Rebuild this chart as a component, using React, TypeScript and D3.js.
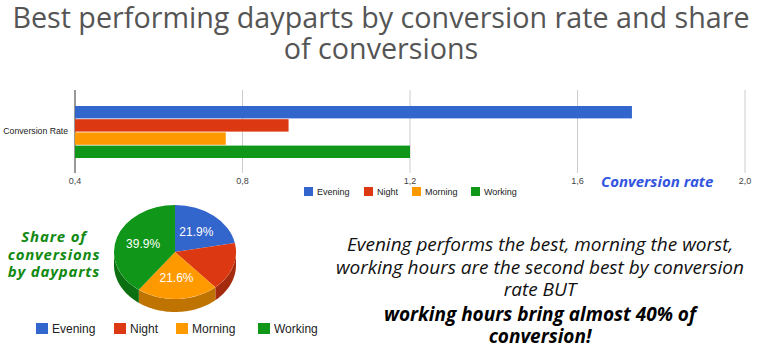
import * as d3 from "d3";

const dayparts = ["Evening", "Night", "Morning", "Working"];
const conversionRate = [1.73, 0.91, 0.76, 1.2];
const conversionShare = [21.9, 16.6, 21.6, 39.9];
const rateTicks = [0.4, 0.8, 1.2, 1.6, 2.0];
const colors = ["#3366cc", "#dc3912", "#ff9900", "#109618"];
const sideColors = ["#264d99", "#a52b0e", "#bf7300", "#0c7012"];
const titleLines = ["Best performing dayparts by conversion rate and share", "of conversions"];
const noteLines = [
  "Evening performs the best, morning the worst,",
  "working hours are the second best by conversion",
  "rate BUT",
];
const noteBold = ["working hours bring almost 40% of", "conversion!"];
const pieTitle = ["Share of", "conversions", "by dayparts"];

const W = 762;
const H = 364;
const sans = "Arial, 'Liberation Sans', sans-serif";
const open = "'Open Sans', sans-serif";

function Pie3D() {
  const cx = 175;
  const cy = 252;
  const rx = 61;
  const ry = 47;
  const depth = 13;
  const pie = d3.pie<number>().sort(null).value((d) => d);
  const arcs = pie(conversionShare);
  const pt = (a: number, dy = 0) => [cx + rx * Math.sin(a), cy - ry * Math.cos(a) + dy];
  const arcGen = d3.arc<d3.PieArcDatum<number>>().innerRadius(0).outerRadius(rx);

  // side band, only for the front half of the ellipse
  const sides = arcs.map((a, i) => {
    const s = Math.max(a.startAngle, Math.PI / 2);
    const e = Math.min(a.endAngle, (3 * Math.PI) / 2);
    if (e <= s) return null;
    const steps = d3.range(0, 41).map((k) => s + ((e - s) * k) / 40);
    const top = steps.map((t) => pt(t));
    const bottom = steps.slice().reverse().map((t) => pt(t, depth));
    const line = d3.line();
    return <path key={`side-${i}`} d={line([...top, ...bottom] as [number, number][]) + "Z"} fill={sideColors[i]} />;
  });

  return (
    <g>
      {sides}
      <g transform={`translate(${cx},${cy}) scale(1,${ry / rx})`}>
        {arcs.map((a, i) => (
          <path key={i} d={arcGen(a) ?? ""} fill={colors[i]} />
        ))}
      </g>
      {arcs.map((a, i) => {
        if (a.data < 20) return null;
        const mid = (a.startAngle + a.endAngle) / 2;
        const [x, y] = [cx + rx * 0.55 * Math.sin(mid), cy - ry * 0.55 * Math.cos(mid)];
        return (
          <text key={`l-${i}`} x={x} y={y + 4} textAnchor="middle" fill="#fff" fontSize={12} fontFamily={sans}>
            {`${a.data.toFixed(1)}%`}
          </text>
        );
      })}
    </g>
  );
}

export default function App() {
  const x = d3.scaleLinear().domain([0.4, 2.0]).range([75, 745]);
  const y = d3.scaleBand<string>().domain(dayparts).range([106, 158]).paddingInner(0.06);
  const fmt = (v: number) => v.toFixed(1).replace(".", ",");
  const barLegendX = [304, 364, 412, 471];
  const pieLegendX = [36, 114, 176, 258];

  return (
    <div style={{ position: "fixed", left: 0, top: 0 }}>
      <svg width={W} height={H} viewBox={`0 0 ${W} ${H}`} style={{ display: "block", background: "#fff" }}>
        {titleLines.map((t, i) => (
          <text key={t} x={381} y={28 + i * 31} textAnchor="middle" fontFamily={open} fontSize={28.7} fill="#555">
            {t}
          </text>
        ))}

        {rateTicks.map((t) => (
          <g key={t}>
            <line x1={x(t)} x2={x(t)} y1={90} y2={173} stroke={t === 0.4 ? "#333" : "#ccc"} strokeWidth={1} />
            <text x={x(t)} y={184} textAnchor="middle" fontFamily={sans} fontSize={9} fill="#444">
              {fmt(t)}
            </text>
          </g>
        ))}
        {dayparts.map((d, i) => (
          <rect key={d} x={x(0.4)} y={y(d)} width={x(conversionRate[i]) - x(0.4)} height={y.bandwidth()} fill={colors[i]} />
        ))}
        <text x={68} y={134} textAnchor="end" fontFamily={sans} fontSize={8.7} fill="#222">
          Conversion Rate
        </text>
        {dayparts.map((d, i) => (
          <g key={`bl-${d}`}>
            <rect x={barLegendX[i]} y={187} width={9} height={9} fill={colors[i]} />
            <text x={barLegendX[i] + 13} y={195} fontFamily={sans} fontSize={9} fill="#222">
              {d}
            </text>
          </g>
        ))}
        <text x={601} y={187} fontFamily={open} fontSize={15} fontWeight="bold" fontStyle="italic" fill="#3355e0">
          Conversion rate
        </text>

        {pieTitle.map((t, i) => (
          <text key={t} x={54} y={242 + i * 17.5} textAnchor="middle" fontFamily={open} fontSize={15} fontWeight="bold" fontStyle="italic" fill="#118a11" letterSpacing={0.8}>
            {t}
          </text>
        ))}
        <Pie3D />
        {dayparts.map((d, i) => (
          <g key={`pl-${d}`}>
            <rect x={pieLegendX[i]} y={323} width={12} height={11} fill={colors[i]} />
            <text x={pieLegendX[i] + 16} y={333} fontFamily={sans} fontSize={12} fill="#222">
              {d}
            </text>
          </g>
        ))}

        {noteLines.map((t, i) => (
          <text key={t} x={540} y={251 + i * 22.5} textAnchor="middle" fontFamily={open} fontSize={19} fontStyle="italic" fill="#111">
            {t}
          </text>
        ))}
        {noteBold.map((t, i) => (
          <text key={t} x={540} y={321 + i * 22} textAnchor="middle" fontFamily={open} fontSize={19} fontStyle="italic" fontWeight="bold" fill="#000">
            {t}
          </text>
        ))}
      </svg>
    </div>
  );
}
